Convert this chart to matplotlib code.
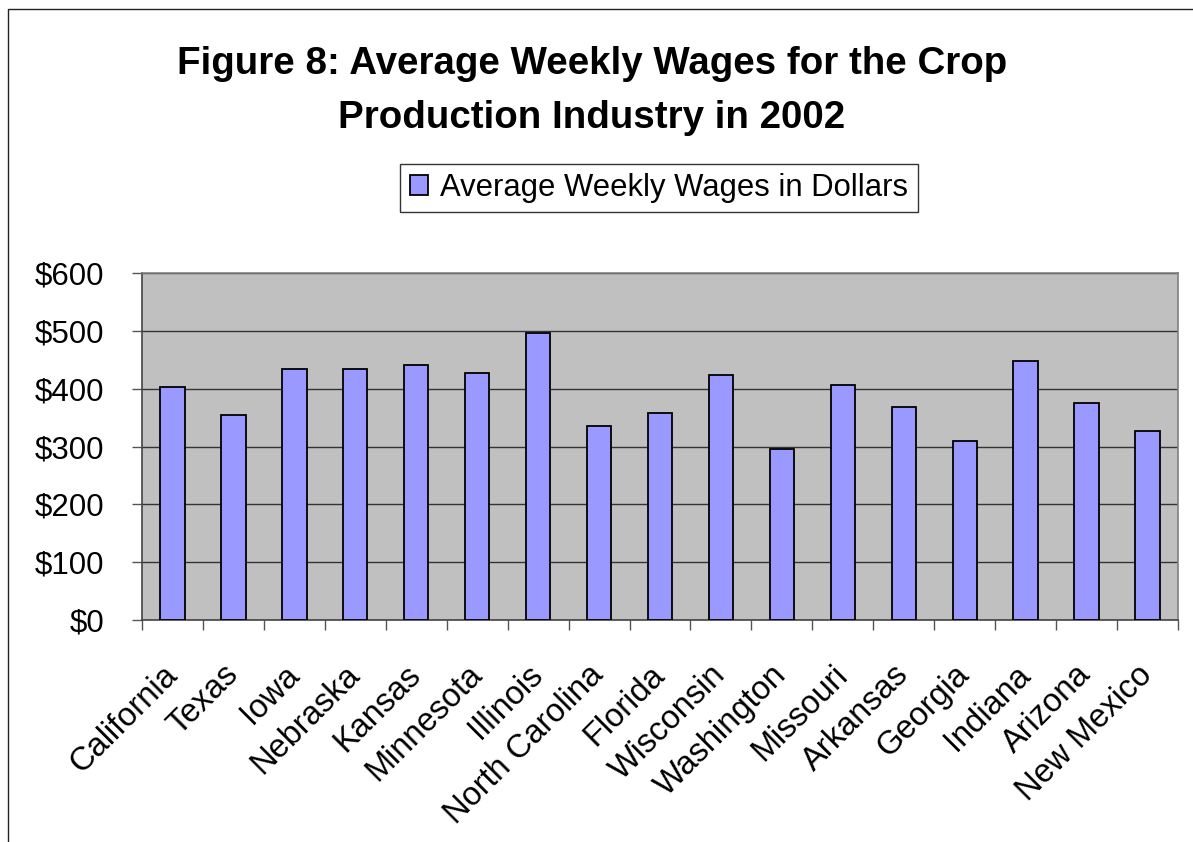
import numpy as np
import matplotlib.pyplot as plt
import matplotlib.transforms as mtransforms
from matplotlib.patches import Rectangle
from matplotlib.ticker import FuncFormatter, MultipleLocator

plt.rcParams['font.family'] = ['Liberation Sans', 'DejaVu Sans']

# Data
states = ['California', 'Texas', 'Iowa', 'Nebraska', 'Kansas', 'Minnesota',
          'Illinois', 'North Carolina', 'Florida', 'Wisconsin', 'Washington',
          'Missouri', 'Arkansas', 'Georgia', 'Indiana', 'Arizona', 'New Mexico']
weekly_wages = [403, 355, 434, 434, 441, 427, 496, 335, 358, 424, 296,
                406, 369, 310, 448, 375, 327]
series_label = 'Average Weekly Wages in Dollars'
title_lines = ['Figure 8: Average Weekly Wages for the Crop',
               'Production Industry in 2002']

W, H = 1193, 842
fig = plt.figure(figsize=(W / 100, H / 100), dpi=100)

# outer chart border (cut off at right and bottom like the reference)
fig.patches.append(Rectangle((8 / W, -0.1), 1.2, 1 - 9 / H + 0.1,
                             transform=fig.transFigure, fill=False,
                             edgecolor='#222222', linewidth=1))

ax = fig.add_axes([142 / W, 1 - 620 / H, (1178 - 142) / W, (620 - 273) / H])
ax.set_facecolor('#C0C0C0')

x = np.arange(len(states))
bars = ax.bar(x, weekly_wages, width=0.4, color='#9999FF',
              edgecolor='black', linewidth=1.3, label=series_label, zorder=3)

ax.set_xlim(-0.5, len(states) - 0.5)
ax.set_ylim(0, 600)
ax.yaxis.set_major_locator(MultipleLocator(100))
ax.yaxis.set_major_formatter(FuncFormatter(lambda v, p: f'${int(v)}'))
ax.grid(axis='y', color='#333333', linewidth=1, zorder=1)

# ticks between categories, labels at category centres
ax.set_xticks(np.arange(len(states) + 1) - 0.5)
ax.set_xticklabels([])
ax.set_xticks(x, minor=True)
ax.set_xticklabels(states, minor=True, rotation=45, ha='right', va='center',
                   rotation_mode='anchor', fontsize=23.5)
shift = mtransforms.ScaledTranslation(-4 / 100, 0, fig.dpi_scale_trans)
for lbl in ax.get_xticklabels(minor=True):
    lbl.set_transform(lbl.get_transform() + shift)
ax.tick_params(axis='x', which='minor', length=0, pad=36)
ax.tick_params(axis='x', which='major', length=7, width=1, color='#555555')
ax.tick_params(axis='y', length=7, width=1, color='#555555', labelsize=22.5,
               pad=20)

for side in ['left', 'bottom']:
    ax.spines[side].set_color('#444444')
    ax.spines[side].set_linewidth(1.2)
for side in ['top', 'right']:
    ax.spines[side].set_color('#808080')
    ax.spines[side].set_linewidth(1.2)

for line, base in zip(title_lines, [74, 128]):
    fig.text(592 / W, 1 - base / H, line, ha='center', va='baseline',
             fontsize=27.7, fontweight='bold')

leg = fig.legend(handles=[bars], labels=[series_label], loc='center',
                 bbox_to_anchor=(659 / W, 1 - 188 / H), fontsize=22.3,
                 frameon=True, fancybox=False, handlelength=0.6,
                 handleheight=0.6, handletextpad=0.4, borderpad=0.3,
                 borderaxespad=0)
leg.get_frame().set_edgecolor('black')
leg.get_frame().set_linewidth(1)

fig.savefig('out.png', dpi=100)
